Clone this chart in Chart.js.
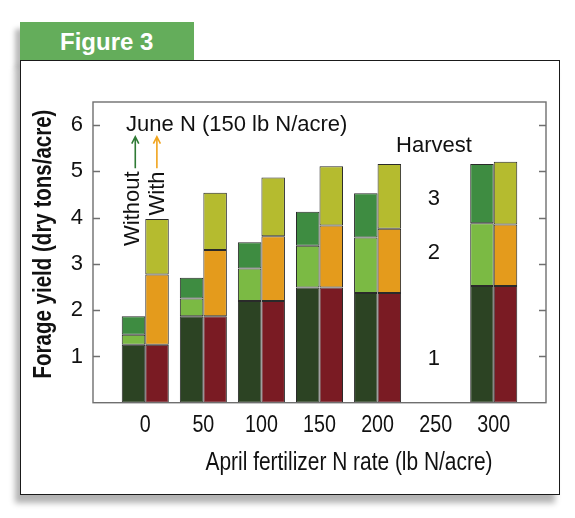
<!DOCTYPE html>
<html>
<head>
<meta charset="utf-8">
<script src="https://cdn.jsdelivr.net/npm/chart.js@4/dist/chart.umd.min.js"></script>
<style>
  html, body { margin: 0; padding: 0; background: #fff; }
  #page { position: relative; width: 575px; height: 518px; overflow: hidden; }
  #tab {
    position: absolute; left: 20px; top: 22px; width: 174px; height: 40px;
    background: #64ad5b; box-shadow: -5px 7px 5px rgba(0,0,0,0.28);
    color: #fff; font: bold 24px "Liberation Sans", Arial, sans-serif;
    box-sizing: border-box; padding-left: 40px; line-height: 40px;
  }
  #box {
    position: absolute; left: 20px; top: 60px; width: 540px; height: 435px;
    box-sizing: border-box; border: 1.6px solid #1a1a1a; background: #fff;
    box-shadow: -5px 8px 6px rgba(0,0,0,0.3);
  }
  #wrap { position: absolute; left: 0; top: 0; width: 575px; height: 518px; }
</style>
</head>
<body>
<div id="page">
  <div id="tab">Figure 3</div>
  <div id="box"></div>
  <div id="wrap"><canvas id="chart"></canvas></div>
</div>
<script>
// April N rates (x categories), index = position on the x axis
const rateLabels = ['0', '50', '100', '150', '200', '250', '300'];
const rateIdx = [0, 1, 2, 3, 4, 6]; // no plot at 250

// yield per harvest (dry tons/acre), without June N
const withoutH1 = [1.25, 1.87, 2.20, 2.49, 2.37, 2.52];
const withoutH2 = [0.22, 0.38, 0.70, 0.90, 1.20, 1.36];
const withoutH3 = [0.40, 0.45, 0.57, 0.74, 0.96, 1.28];

// with June N (150 lb N/acre)
const withH1 = [1.25, 1.87, 2.20, 2.49, 2.37, 2.52];
const withH2 = [1.52, 1.43, 1.40, 1.34, 1.39, 1.33];
const withH3 = [1.20, 1.24, 1.27, 1.28, 1.40, 1.36];

const yTicks = [1, 2, 3, 4, 5, 6];

const regular = "'Liberation Sans', Arial, sans-serif";
const NARROW = 0.82; // Arial Narrow look: Arial squeezed to 82%

function pts(vals) {
    return vals.map((v, i) => ({ x: rateIdx[i], y: v }));
}

function ds(label, vals, color, stack) {
    return {
        label,
        data: pts(vals),
        backgroundColor: color,
        borderColor: '#2a2a2a',
        borderWidth: 1,
        borderSkipped: false,
        stack,
        categoryPercentage: 0.81,
        barPercentage: 1.0
    };
}

function narrowText(ctx, text, px, py, rot) {
    ctx.save();
    ctx.translate(px, py);
    if (rot) ctx.rotate(rot);
    ctx.scale(NARROW, 1);
    ctx.fillText(text, 0, 0);
    ctx.restore();
}

// frame, inner tick marks, x labels and the annotation texts
const decor = {
    id: 'decor',
    afterDraw(chart) {
        const { ctx, chartArea: a, scales: { x, y } } = chart;
        ctx.save();
        ctx.strokeStyle = '#6f6f6f';
        ctx.lineWidth = 1.4;
        ctx.strokeRect(a.left, a.top, a.right - a.left, a.bottom - a.top);
        ctx.beginPath();
        yTicks.forEach(t => {
            const py = Math.round(y.getPixelForValue(t)) + 0.5;
            ctx.moveTo(a.left, py); ctx.lineTo(a.left + 7, py);
            ctx.moveTo(a.right - 7, py); ctx.lineTo(a.right, py);
        });
        ctx.stroke();

        ctx.fillStyle = '#111';
        ctx.textBaseline = 'middle';
        ctx.textAlign = 'center';

        // x tick labels, narrow face
        ctx.font = '24px ' + regular;
        x.ticks.forEach(t => {
            narrowText(ctx, rateLabels[t.value], x.getPixelForValue(t.value), a.bottom + 23);
        });

        ctx.font = '22px ' + regular;
        ctx.textAlign = 'left';
        ctx.fillText('June N (150 lb N/acre)', x.getPixelForValue(-0.33), y.getPixelForValue(6.0));

        ctx.textAlign = 'center';
        ctx.fillText('Harvest', x.getPixelForValue(4.97), y.getPixelForValue(5.56));
        ctx.fillText('3', x.getPixelForValue(4.97), y.getPixelForValue(4.40));
        ctx.fillText('2', x.getPixelForValue(4.97), y.getPixelForValue(3.24));
        ctx.fillText('1', x.getPixelForValue(4.97), y.getPixelForValue(0.94));

        // Without / With vertical labels
        const topY = y.getPixelForValue(5.0);
        [['Without', -0.215], ['With', 0.22]].forEach(([t, xv]) => {
            ctx.save();
            ctx.translate(x.getPixelForValue(xv), topY);
            ctx.rotate(-Math.PI / 2);
            ctx.textAlign = 'right';
            ctx.fillText(t, 0, 0);
            ctx.restore();
        });

        // arrows
        [['#2f7a35', -0.172], ['#f0a41e', 0.2]].forEach(([c, xv]) => {
            const px = x.getPixelForValue(xv);
            const y0 = y.getPixelForValue(5.07), y1 = y.getPixelForValue(5.75);
            ctx.strokeStyle = c;
            ctx.lineWidth = 1.6;
            ctx.beginPath();
            ctx.moveTo(px, y0); ctx.lineTo(px, y1);
            ctx.moveTo(px - 3.5, y1 + 7); ctx.lineTo(px, y1); ctx.lineTo(px + 3.5, y1 + 7);
            ctx.stroke();
        });

        // axis titles
        ctx.fillStyle = '#111';
        ctx.textAlign = 'center';
        ctx.font = '25.5px ' + regular;
        narrowText(ctx, 'April fertilizer N rate (lb N/acre)', 349, 463);
        ctx.font = 'bold 25px ' + regular;
        narrowText(ctx, 'Forage yield (dry tons/acre)', 44, 244, -Math.PI / 2);
        ctx.restore();
    }
};

new Chart(document.getElementById('chart'), {
    type: 'bar',
    data: {
        datasets: [
            ds('Without - harvest 1', withoutH1, '#2c4323', 'without'),
            ds('Without - harvest 2', withoutH2, '#7bba44', 'without'),
            ds('Without - harvest 3', withoutH3, '#3e8c41', 'without'),
            ds('With - harvest 1', withH1, '#7a1b23', 'with'),
            ds('With - harvest 2', withH2, '#e49b1c', 'with'),
            ds('With - harvest 3', withH3, '#b5bb2f', 'with')
        ]
    },
    options: {
        responsive: true,
        maintainAspectRatio: false,
        animation: false,
        layout: { padding: { left: 53, top: 102, right: 29, bottom: 55.3 } },
        plugins: { legend: { display: false }, tooltip: { enabled: false } },
        scales: {
            x: {
                type: 'linear',
                offset: false,
                min: -0.9,
                max: 6.9,
                grid: { display: false, drawTicks: false, offset: false },
                border: { display: false },
                afterFit(scale) { scale.height = 60; },
                afterBuildTicks(scale) {
                    scale.ticks = rateLabels.map((l, i) => ({ value: i }));
                },
                ticks: { display: false }
            },
            y: {
                stacked: true,
                min: 0,
                max: 6.5,
                grid: { display: false, drawTicks: false },
                border: { display: false },
                afterFit(scale) { scale.width = 40; },
                afterBuildTicks(scale) {
                    scale.ticks = yTicks.map(v => ({ value: v }));
                },
                ticks: {
                    padding: 10,
                    color: '#111',
                    font: { family: regular, size: 22 }
                }
            }
        }
    },
    plugins: [decor]
});
</script>
</body>
</html>
